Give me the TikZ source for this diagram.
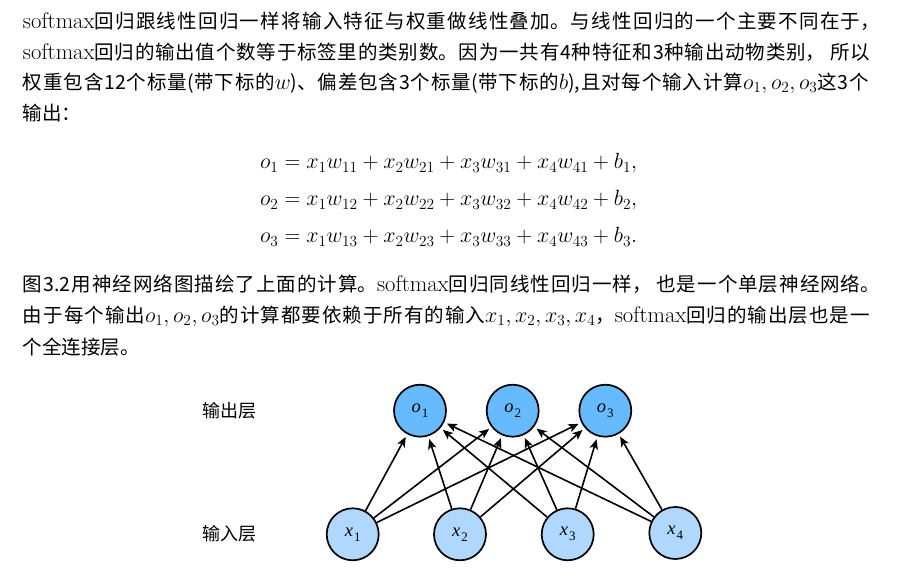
\RequirePackage{fix-cm}
\documentclass[tikz,border=0pt]{standalone}
\usepackage{fontspec}
\usetikzlibrary{arrows.meta}
\setmainfont{Noto Sans CJK SC}
\newfontfamily\ltn[Scale=1.16]{Latin Modern Roman}
\newfontfamily\lbl{Liberation Serif}
\DeclareMathSizes{19.5}{22}{15.4}{11}
\XeTeXlinebreaklocale "zh"
\XeTeXlinebreakskip=0pt plus 4pt minus 2pt
\newcommand{\sm}{{\ltn softmax}}
\newcommand{\jl}[2]{\parbox{#1}{\tolerance=9999\hbadness=10000\hfuzz=20pt\parfillskip=0pt\relax #2}}
\tikzset{
  body/.style={anchor=base west,inner sep=0pt,outer sep=0pt,font=\fontsize{19.5}{24}\selectfont,text=black},
  eq/.style={anchor=base west,inner sep=0pt,outer sep=0pt,font=\fontsize{19.5}{24}\selectfont},
  layerlabel/.style={anchor=base west,inner sep=0pt,font=\fontsize{18}{20}\selectfont},
  neuron/.style={circle,draw=black,line width=1.7pt,minimum size=52pt,inner sep=0pt,font=\fontsize{18.5}{20}\lbl\itshape},
  outn/.style={neuron,fill=outblue},
  inn/.style={neuron,fill=inblue},
  edge/.style={line width=1.6pt,-{Stealth[length=10pt,width=8.5pt,inset=2.5pt]},shorten >=3pt}
}
\definecolor{outblue}{HTML}{66BBFF}
\definecolor{inblue}{HTML}{B0D8FF}
\newcommand{\lab}[2]{#1\kern1pt\raisebox{-5pt}{\fontsize{13}{14}\selectfont\upshape #2}}
\begin{document}
\begin{tikzpicture}[x=1pt,y=-1pt]
\useasboundingbox (0,0) rectangle (913,577);
\fill[white] (0,0) rectangle (913,577);
\node[body] (l1) at (23,27) {\jl{857pt}{\sm 回归跟线性回归一样将输入特征与权重做线性叠加。与线性回归的一个主要不同在于，}};
\node[body] (l2) at (23,58) {\jl{847pt}{\sm 回归的输出值个数等于标签里的类别数。因为一共有4种特征和3种输出动物类别， 所以}};
\node[body] (l3) at (23,89) {\jl{846pt}{权重包含12个标量(带下标的$w$)、偏差包含3个标量(带下标的$b$),且对每个输入计算$o_1,o_2,o_3$这3个}};
\node[body] (l4) at (23,121) {输出：};
\node[eq] (e1) at (260,169) {$o_1=x_1w_{11}+x_2w_{21}+x_3w_{31}+x_4w_{41}+b_1,$};
\node[eq] (e2) at (260,206) {$o_2=x_1w_{12}+x_2w_{22}+x_3w_{32}+x_4w_{42}+b_2,$};
\node[eq] (e3) at (260,243) {$o_3=x_1w_{13}+x_2w_{23}+x_3w_{33}+x_4w_{43}+b_3.$};
\node[body] (l5) at (23,290) {\jl{857pt}{图3.2用神经网络图描绘了上面的计算。\sm 回归同线性回归一样， 也是一个单层神经网络。}};
\node[body] (l6) at (23,322) {\jl{847pt}{由于每个输出$o_1,o_2,o_3$的计算都要依赖于所有的输入$x_1,x_2,x_3,x_4$，\sm 回归的输出层也是一}};
\node[body] (l7) at (23,354) {个全连接层。};
\node[layerlabel] (lo) at (202,417) {输出层};
\node[layerlabel] (li) at (202,540) {输入层};
\node[outn] (o1) at (420,410.7) {\lab{o}{1}};
\node[outn] (o2) at (512.7,410.7) {\lab{o}{2}};
\node[outn] (o3) at (605.3,410.7) {\lab{o}{3}};
\node[inn] (x1) at (352.7,534.3) {\lab{x}{1}};
\node[inn] (x2) at (460,534.3) {\lab{x}{2}};
\node[inn] (x3) at (567.7,534.3) {\lab{x}{3}};
\node[inn] (x4) at (675.3,533) {\lab{x}{4}};
\foreach \a in {x1,x2,x3,x4}
  \foreach \b in {o1,o2,o3}
    \draw[edge] (\a) -- (\b);
\end{tikzpicture}
\end{document}
